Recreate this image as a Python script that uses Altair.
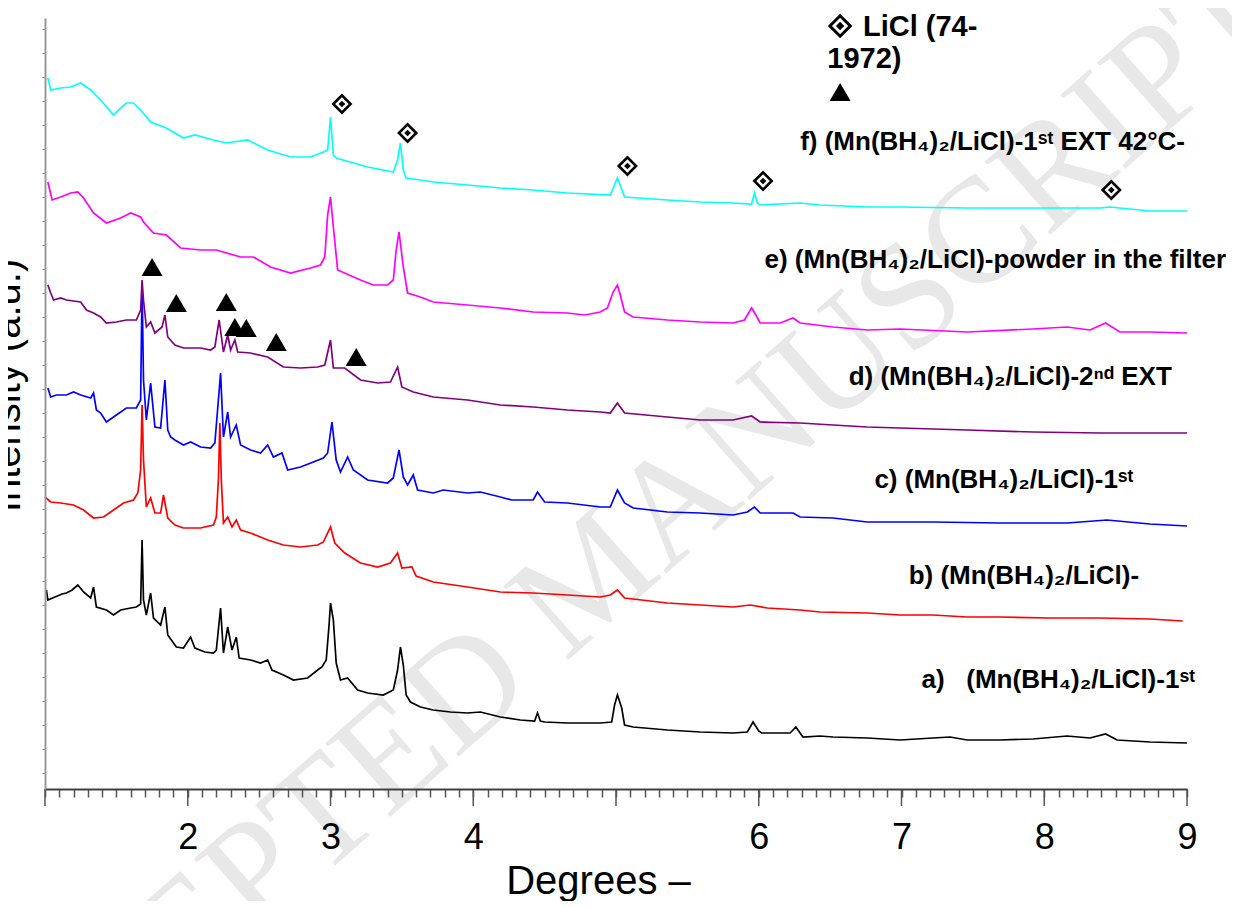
import altair as alt
import pandas as pd

# ---------------- data (x: degrees, y: intensity a.u.) -------------
deg_a = [1.01,1.02,1.07,1.12,1.15,1.19,1.23,1.27,1.32,1.34,
         1.36,1.43,1.48,1.53,1.60,1.64,1.67,1.68,1.69,1.71,
         1.74,1.76,1.81,1.84,1.86,1.92,1.97,2.02,2.05,2.12,
         2.18,2.20,2.23,2.25,2.28,2.31,2.34,2.36,2.44,2.51,
         2.56,2.59,2.67,2.74,2.84,2.91,2.94,2.97,2.99,3.00,
         3.02,3.04,3.07,3.12,3.19,3.26,3.37,3.44,3.47,3.49,
         3.51,3.53,3.56,3.63,3.72,3.84,3.96,4.05,4.19,4.33,
         4.43,4.45,4.47,4.50,4.66,4.89,4.97,4.99,5.01,5.04,
         5.06,5.12,5.36,5.59,5.82,5.92,5.96,6.00,6.02,6.22,
         6.26,6.31,6.43,6.52,6.76,6.99,7.22,7.34,7.46,7.69,
         7.92,8.16,8.32,8.43,8.51,8.74,9.00]
int_a = [199,189,192,195,196,199,204,197,191,202,
         182,179,174,179,181,182,185,249,189,174,
         196,171,164,182,154,142,141,152,141,137,
         136,139,181,136,162,139,152,131,129,126,
         129,119,114,109,111,119,122,129,164,186,
         169,126,109,111,99,96,94,99,119,142,
         124,94,87,82,79,77,76,77,72,69,
         68,76,68,67,66,66,67,84,94,81,
         64,62,59,57,56,57,67,58,56,56,
         62,52,53,52,51,49,51,52,49,49,
         50,53,51,55,49,47,46]

deg_b = [1.00,1.04,1.11,1.20,1.27,1.34,1.41,1.48,1.55,1.62,
         1.65,1.67,1.68,1.69,1.71,1.74,1.77,1.81,1.83,1.86,
         1.91,1.97,2.09,2.18,2.20,2.215,2.225,2.235,2.25,2.28,
         2.31,2.34,2.37,2.44,2.56,2.67,2.79,2.91,2.95,3.00,
         3.03,3.10,3.21,3.33,3.42,3.47,3.50,3.57,3.60,3.72,
         3.96,4.19,4.42,4.66,4.89,4.96,5.01,5.06,5.36,5.59,
         5.82,5.94,6.06,6.29,6.43,6.76,6.99,7.22,7.46,7.69,
         8.04,8.39,8.74,8.97]
int_b = [292,287,286,284,279,271,272,279,286,289,
         296,319,384,329,282,291,276,276,294,271,
         264,261,261,264,272,310,366,310,266,272,
         262,269,259,256,249,244,242,244,247,262,
         246,236,226,222,226,236,221,222,213,207,
         202,197,196,194,192,194,199,191,186,184,
         182,184,181,179,177,176,174,174,172,172,
         171,171,170,168]

deg_c = [1.02,1.04,1.08,1.15,1.20,1.25,1.32,1.34,1.36,1.39,
         1.43,1.50,1.57,1.64,1.67,1.68,1.69,1.71,1.74,1.77,
         1.81,1.84,1.86,1.88,1.91,1.97,2.02,2.09,2.16,2.19,
         2.23,2.25,2.28,2.30,2.34,2.37,2.44,2.51,2.56,2.60,
         2.66,2.70,2.79,2.88,2.95,2.98,3.01,3.04,3.07,3.12,
         3.16,3.26,3.40,3.44,3.48,3.51,3.54,3.58,3.61,3.72,
         3.79,3.96,4.05,4.19,4.27,4.42,4.45,4.50,4.66,4.89,
         4.96,5.01,5.06,5.12,5.36,5.59,5.82,5.92,5.97,6.01,
         6.24,6.29,6.52,6.76,7.22,7.69,8.16,8.44,8.74,9.00]
int_c = [401,392,394,394,397,394,391,396,379,376,
         367,374,381,381,389,504,409,369,406,362,
         361,409,359,352,349,344,347,342,341,346,
         416,352,377,352,364,344,339,336,344,332,
         336,319,322,327,331,336,367,329,317,332,
         319,309,306,311,339,312,304,314,299,296,
         299,296,297,292,289,289,297,287,286,282,
         282,299,286,281,277,276,274,277,282,276,
         276,272,271,267,267,266,266,269,265,263]

deg_d = [1.02,1.04,1.06,1.11,1.15,1.25,1.29,1.34,1.39,1.43,
         1.50,1.57,1.64,1.67,1.68,1.69,1.71,1.74,1.77,1.82,
         1.84,1.86,1.91,1.97,2.09,2.16,2.19,2.22,2.25,2.28,
         2.30,2.33,2.35,2.44,2.56,2.67,2.79,2.91,2.96,3.00,
         3.02,3.10,3.21,3.33,3.42,3.47,3.50,3.58,3.72,3.96,
         4.19,4.42,4.66,4.89,4.96,5.01,5.06,5.36,5.59,5.82,
         5.95,6.01,6.29,6.52,6.76,6.99,7.46,7.92,8.39,9.00]
int_d = [504,496,489,491,489,487,479,476,472,466,
         467,469,469,479,509,489,462,467,456,462,
         474,452,444,441,441,439,442,469,437,454,
         439,449,437,436,432,422,421,422,424,449,
         421,421,409,406,407,422,402,397,392,389,
         384,382,379,377,376,386,376,372,369,369,
         373,367,366,364,362,361,359,357,356,356]

deg_e = [1.02,1.05,1.11,1.18,1.23,1.27,1.34,1.43,1.53,1.60,
         1.67,1.69,1.76,1.85,1.95,2.09,2.20,2.37,2.46,2.58,
         2.72,2.86,2.93,2.96,2.98,3.00,3.02,3.05,3.21,3.30,
         3.40,3.44,3.46,3.48,3.51,3.54,3.63,3.72,3.96,4.19,
         4.42,4.66,4.78,4.89,4.94,4.98,5.01,5.03,5.06,5.12,
         5.36,5.59,5.82,5.90,5.95,5.98,6.01,6.15,6.24,6.29,
         6.52,6.76,6.99,7.46,7.92,8.16,8.32,8.43,8.53,8.74,
         9.00]
int_e = [607,589,592,596,597,591,576,566,571,576,
         572,567,556,554,541,539,539,532,532,522,
         516,521,524,532,574,592,562,519,509,504,
         504,509,539,557,522,496,492,487,484,481,
         477,476,474,477,481,497,504,494,477,472,
         469,467,466,469,481,474,466,466,471,466,
         462,459,460,457,460,462,459,466,457,457,
         456]

deg_f = [1.02,1.04,1.11,1.18,1.25,1.32,1.39,1.48,1.53,1.57,
         1.62,1.67,1.74,1.85,1.97,2.05,2.18,2.27,2.42,2.56,
         2.72,2.86,2.95,2.98,3.00,3.02,3.04,3.26,3.44,3.47,
         3.49,3.51,3.53,3.63,3.72,3.96,4.19,4.42,4.66,4.96,
         5.01,5.06,5.36,5.59,5.82,5.95,5.97,5.99,6.01,6.29,
         6.43,6.76,6.99,7.46,8.04,8.39,8.46,8.74,9.00]
int_f = [711,699,701,702,706,699,689,674,681,686,
         686,679,667,661,651,654,649,646,649,639,
         632,632,637,639,672,634,631,622,617,629,
         646,619,611,609,607,604,601,599,596,594,
         611,592,589,587,586,585,596,586,584,586,
         584,582,582,581,581,581,582,578,578]

series_names = ["a", "b", "c", "d", "e", "f"]
series_colors = ["#000000", "#ff0000", "#0000ff", "#800080", "#ff00ff", "#00ffff"]
series_deg = [deg_a, deg_b, deg_c, deg_d, deg_e, deg_f]
series_int = [int_a, int_b, int_c, int_d, int_e, int_f]

NB = "\u00a0"
label_text = [
    "a)" + NB * 3 + "(Mn(BH\u2084)\u2082/LiCl)-1\u02e2\u1d57",
    "b) (Mn(BH\u2084)\u2082/LiCl)-",
    "c) (Mn(BH\u2084)\u2082/LiCl)-1\u02e2\u1d57",
    "d) (Mn(BH\u2084)\u2082/LiCl)-2\u207f\u1d48 EXT",
    "e) (Mn(BH\u2084)\u2082/LiCl)-powder in the filter",
    "f) (Mn(BH\u2084)\u2082/LiCl)-1\u02e2\u1d57 EXT 42\u00b0C-",
]
label_deg = [7.14, 7.05, 6.81, 6.63, 6.04, 6.29]
label_int = [101, 205, 301, 404, 521, 639]

# LiCl reflections (diamonds) and other phase (triangles)
dia_deg = [3.08, 3.54, 5.08, 6.03, 8.47]
dia_int = [685, 656, 623, 608, 599]
tri_deg = [1.75, 1.92, 2.27, 2.33, 2.41, 2.62, 3.18]
tri_int = [522, 486, 487, 462, 461, 447, 432]

legend_lines = ["LiCl (74-", "1972)"]
legend_line_deg = [6.73, 6.48]
legend_line_int = [753, 721]
legend_dia_deg = [6.57]
legend_dia_int = [763]
legend_tri_deg = [6.57]
legend_tri_int = [697]

minor_ticks = [round(1 + i * 0.1, 1) for i in range(81)]
major_ticks = [1, 2, 3, 4, 5, 6, 7, 8, 9]
y_ticks = list(range(16, 771, 24))

# ---------------- chart ----------------
W, H = 1142, 771
FONT = "Liberation Sans"
xs = alt.Scale(domain=[1, 9], nice=False, zero=False)
ys = alt.Scale(domain=[0, 771], nice=False, zero=False)
major = "abs(datum.value - round(datum.value)) < 0.001"

x_axis = alt.Axis(
    values=minor_ticks, zindex=1,
    title="Degrees \u2013",
    titleFont=FONT, titleFontSize=40, titleFontWeight="normal", titleColor="#000",
    titleX=553, titleY=104, titleBaseline="alphabetic", titleAnchor="start", titleAlign="center",
    labelExpr=f"({major} && round(datum.value) != 1 && round(datum.value) != 5) ? format(datum.value, 'd') : ''",
    labelFont=FONT, labelFontSize=36, labelColor="#000", labelPadding=23,
    labelOverlap=False, labelFlush=False, labelBaseline="top",
    tickSize=8, tickColor="#555555", tickWidth=1.5,
    domainColor="#404040", domainWidth=2, grid=False,
)
y_axis = alt.Axis(
    values=y_ticks, labels=False, tickSize=3, tickColor="#888888", tickWidth=1, zindex=1,
    domainColor="#999999", domainWidth=2, grid=False,
    title="Intensity (a.u.)", titleFont=FONT, titleFontSize=40, titleFontWeight="normal",
    titleColor="#000", titleAngle=270, titleX=-26, titleY=367,
    titleBaseline="alphabetic", titleAlign="center",
)

X = alt.X("deg:Q", scale=xs, axis=x_axis)
Y = alt.Y("intensity:Q", scale=ys, axis=y_axis)

layers = []

wm = pd.DataFrame({"t": ["ACCEPTED MANUSCRIPT"]})
layers.append(
    alt.Chart(wm).mark_text(
        font="Liberation Serif", fontSize=150, color="#e8e8e8", angle=318.6,
        align="center", baseline="middle",
    ).encode(x=alt.value(548), y=alt.value(560), text="t:N")
)

for name, dg, it, col in zip(series_names, series_deg, series_int, series_colors):
    df = pd.DataFrame({"deg": dg, "intensity": it})
    layers.append(
        alt.Chart(df).mark_line(color=col, strokeWidth=1.7, interpolate="linear").encode(
            x=X, y=Y, order="deg:Q",
        )
    )

# longer tick marks at the integer degrees
maj_df = pd.DataFrame({"deg": major_ticks})
layers.append(
    alt.Chart(maj_df).mark_rule(color="#555555", strokeWidth=1.5, clip=False).encode(
        x=X, y=alt.value(H), y2=alt.value(H + 17)
    )
)

dia_df = pd.DataFrame({"deg": dia_deg, "intensity": dia_int})
ldia_df = pd.DataFrame({"deg": legend_dia_deg, "intensity": legend_dia_int})
tri_df = pd.DataFrame({"deg": tri_deg + legend_tri_deg, "intensity": tri_int + legend_tri_int})

layers.append(alt.Chart(dia_df).mark_point(shape="diamond", filled=False, fill=None, stroke="black",
                                           strokeWidth=2.6, size=300, opacity=1).encode(x=X, y=Y))
layers.append(alt.Chart(dia_df).mark_point(shape="diamond", filled=True, fill="black", strokeWidth=0,
                                           size=45, opacity=1).encode(x=X, y=Y))
layers.append(alt.Chart(ldia_df).mark_point(shape="diamond", filled=False, fill=None, stroke="black",
                                            strokeWidth=3, size=420, opacity=1).encode(x=X, y=Y))
layers.append(alt.Chart(ldia_df).mark_point(shape="diamond", filled=True, fill="black", strokeWidth=0,
                                            size=70, opacity=1).encode(x=X, y=Y))
layers.append(alt.Chart(tri_df).mark_point(shape="triangle-up", filled=True, fill="black", strokeWidth=0,
                                           size=441, opacity=1).encode(x=X, y=Y))

lab_df = pd.DataFrame({"deg": label_deg, "intensity": label_int, "t": label_text})
layers.append(
    alt.Chart(lab_df).mark_text(font=FONT, fontSize=26, fontWeight="bold", align="left",
                                baseline="alphabetic", color="black").encode(x=X, y=Y, text="t:N")
)
leg_df = pd.DataFrame({"deg": legend_line_deg, "intensity": legend_line_int, "t": legend_lines})
layers.append(
    alt.Chart(leg_df).mark_text(font=FONT, fontSize=29, fontWeight="bold", align="left",
                                baseline="alphabetic", color="black").encode(x=X, y=Y, text="t:N")
)

chart = alt.layer(*layers).properties(
    width=W, height=H,
    autosize=alt.AutoSizeParams(type="none"),
    padding={"left": 37, "top": 10, "right": 45, "bottom": 112},
).configure_view(stroke=None)

chart.save("out.html", embed_options={"renderer": "svg", "actions": False})
